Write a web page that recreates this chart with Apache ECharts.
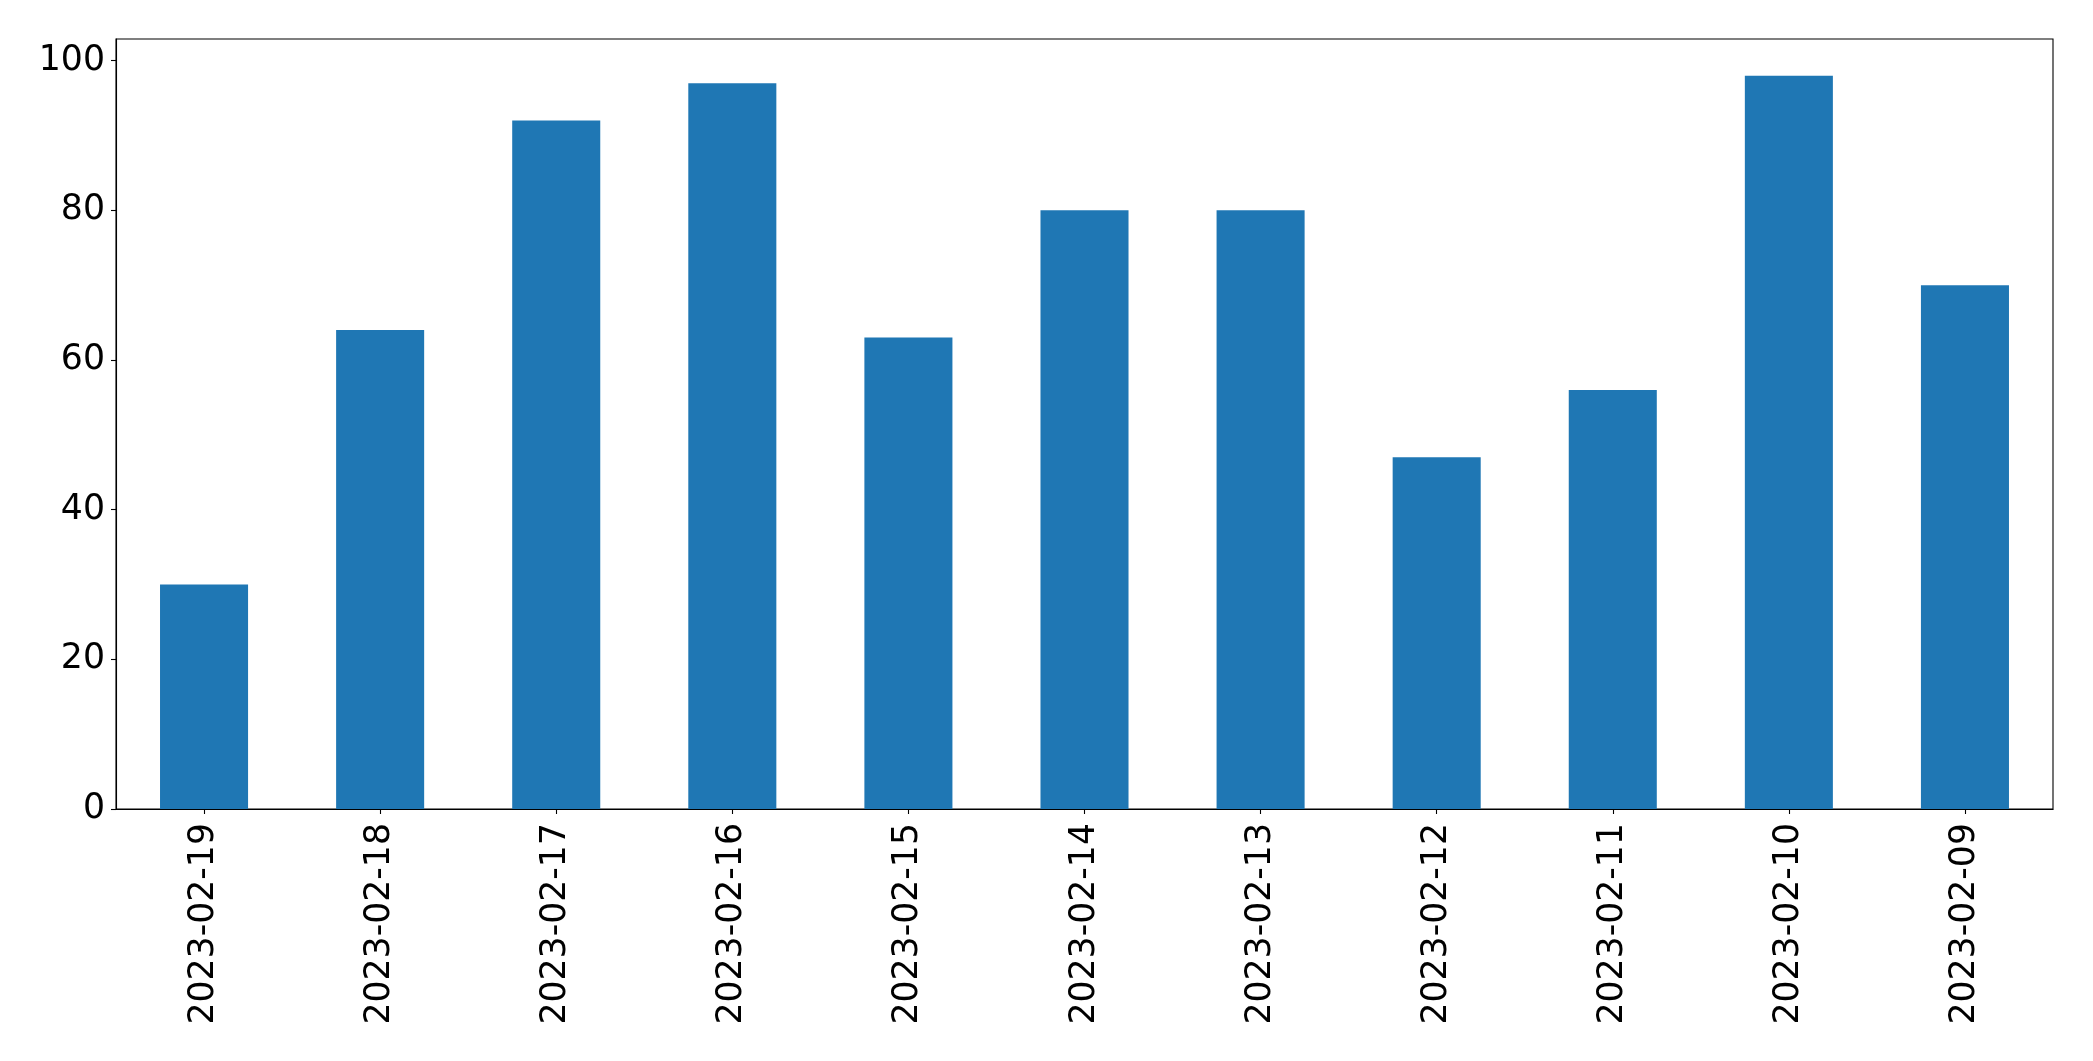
<!DOCTYPE html>
<html>
<head>
<meta charset="utf-8">
<script src="https://cdn.jsdelivr.net/npm/echarts@6/dist/echarts.min.js"></script>
<style>html,body{margin:0;padding:0;background:#fff}#c{width:2093px;height:1061px}</style>
</head>
<body>
<div id="c"></div>
<script>
const categories = ['2023-02-19','2023-02-18','2023-02-17','2023-02-16','2023-02-15','2023-02-14','2023-02-13','2023-02-12','2023-02-11','2023-02-10','2023-02-09'];
const values = [30, 64, 92, 97, 63, 80, 80, 47, 56, 98, 70];
const yTicks = [0, 20, 40, 60, 80, 100];

const chart = echarts.init(document.getElementById('c'), null, {renderer: 'canvas'});
const font = 'DejaVu Sans';
chart.setOption({
  animation: false,
  grid: {left: 116, top: 39, right: 40, bottom: 252, show: true, borderColor: '#000', borderWidth: 1.1, containLabel: false},
  xAxis: {
    type: 'category', data: categories, boundaryGap: true,
    axisLine: {show: true, lineStyle: {color: '#000', width: 1.1}},
    axisTick: {show: true, alignWithLabel: true, length: 5, lineStyle: {color: '#000', width: 1.1}},
    axisLabel: {rotate: 90, fontFamily: font, fontSize: 34.7, color: '#000', margin: 14, interval: 0},
    splitLine: {show: false}
  },
  yAxis: {
    type: 'value', min: 0, max: 102.9,
    axisLine: {show: true, lineStyle: {color: '#000', width: 1.1}},
    axisTick: {show: true, length: 5, lineStyle: {color: '#000', width: 1.1}, customValues: yTicks},
    axisLabel: {fontFamily: font, fontSize: 34.7, color: '#000', margin: 11, customValues: yTicks},
    splitLine: {show: false}
  },
  series: [{type: 'bar', data: values, barWidth: '50%', itemStyle: {color: '#1f77b4'}}]
});
</script>
</body>
</html>
